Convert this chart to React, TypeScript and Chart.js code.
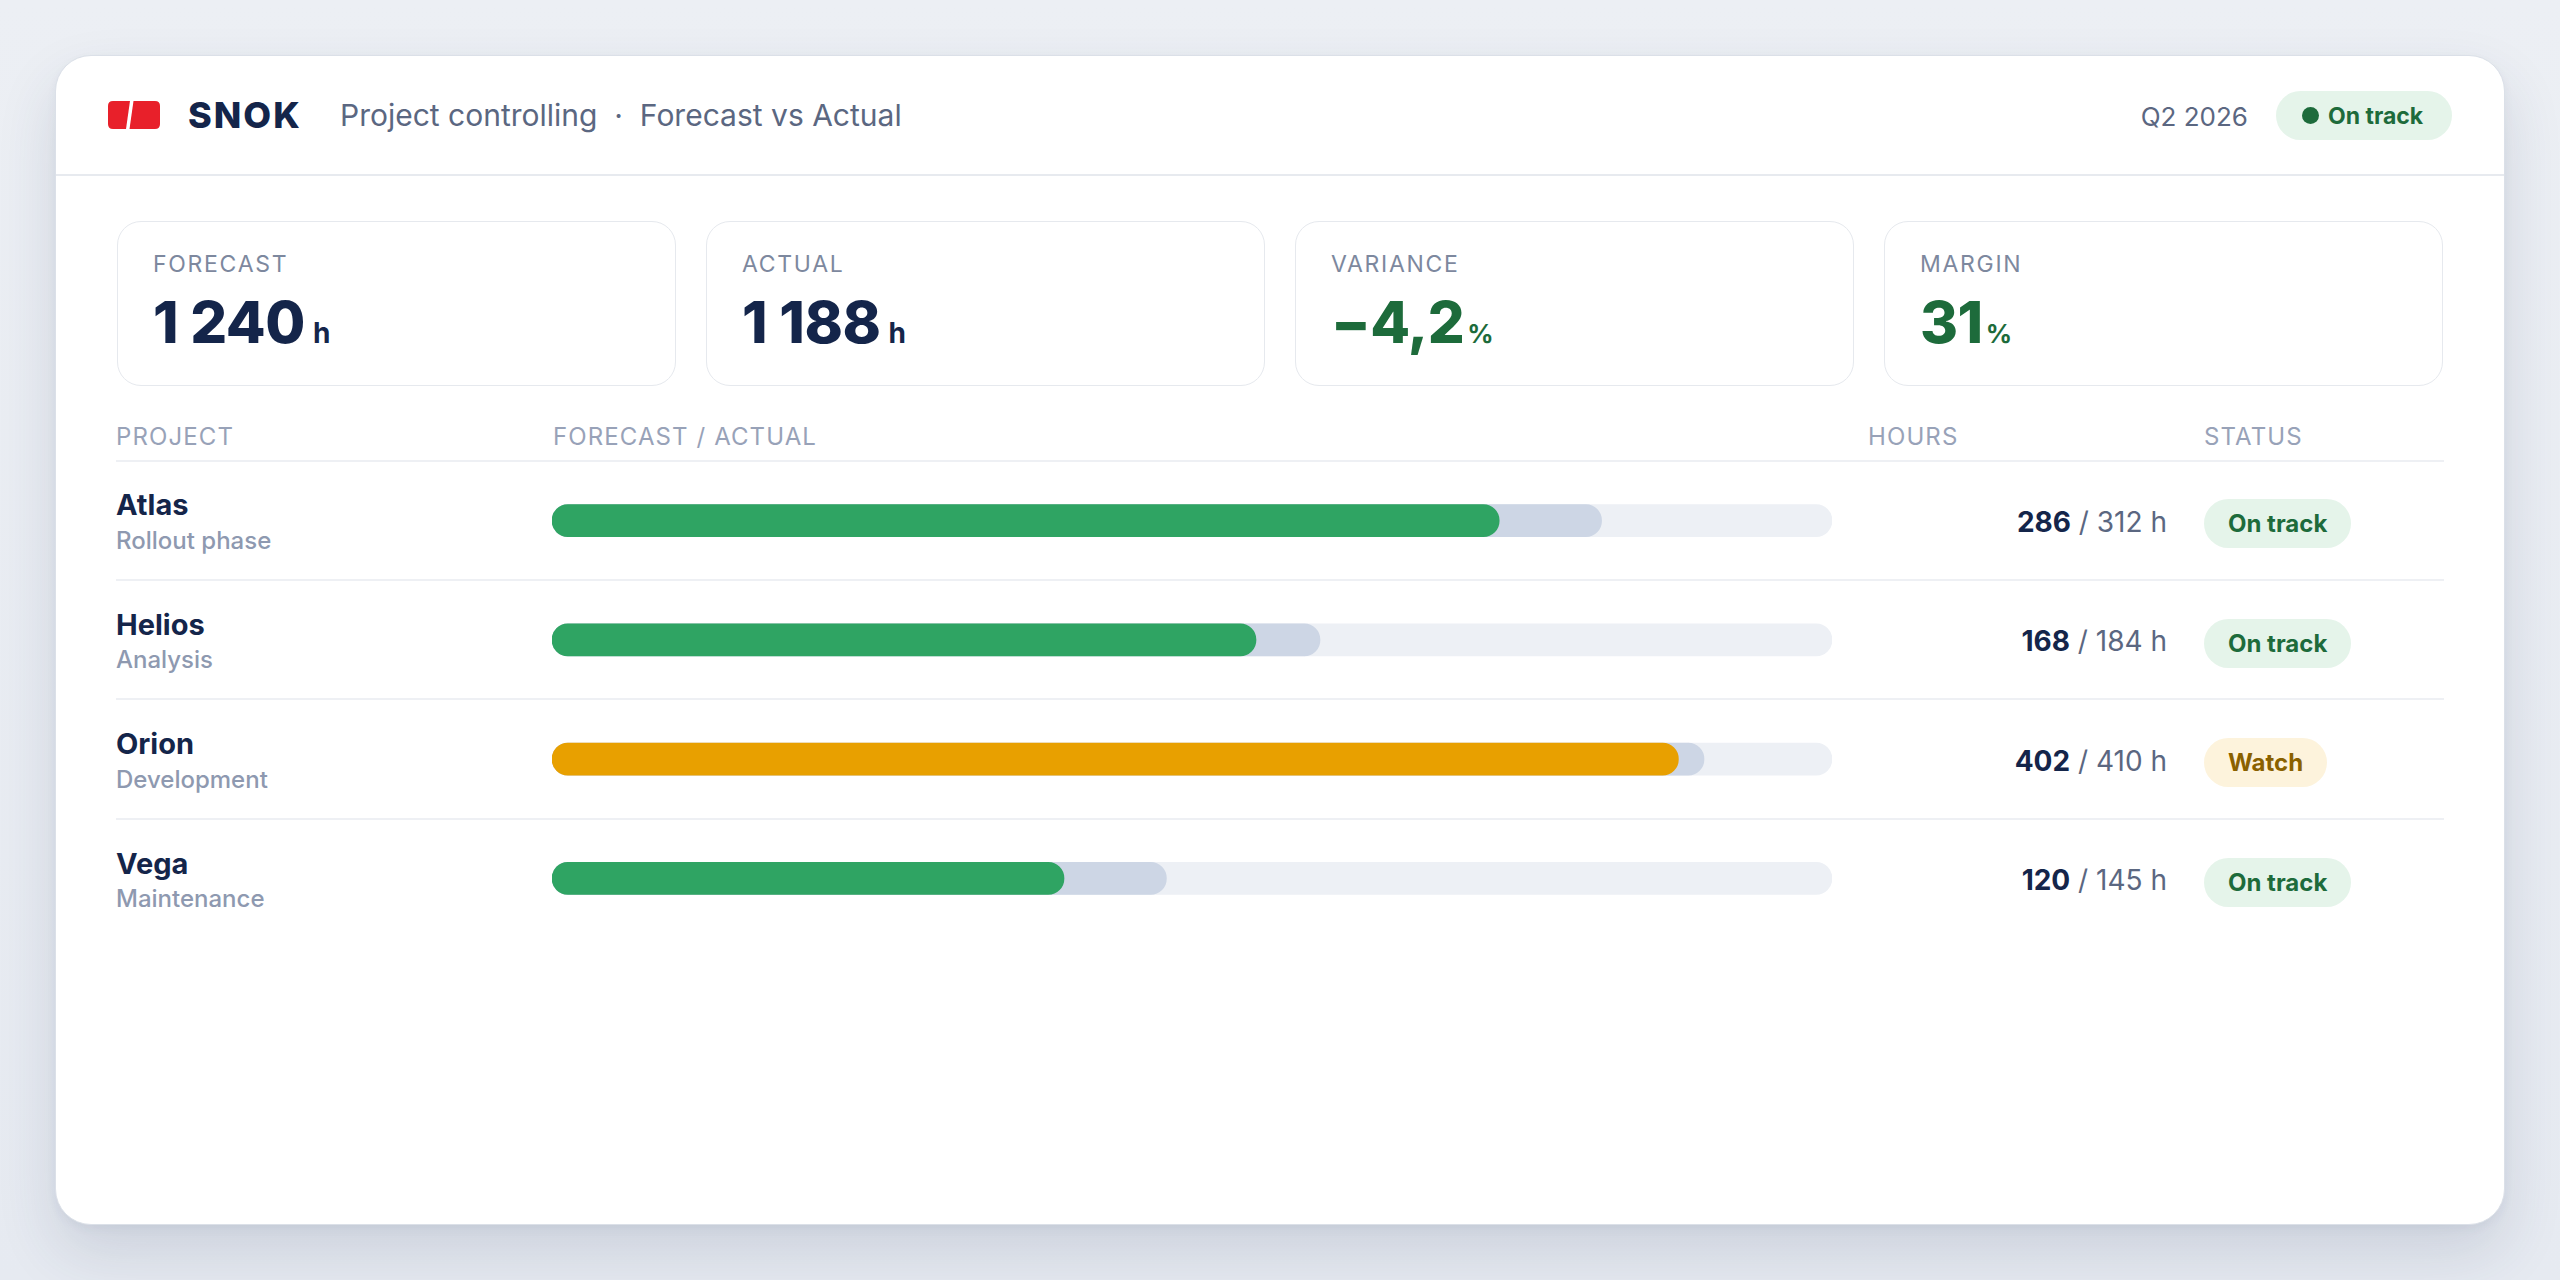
import React, { useEffect, useRef } from "react";
import { Chart, registerables } from "chart.js";

Chart.register(...registerables);

// ---------- data ----------
const projects = ["Atlas", "Helios", "Orion", "Vega"];
const phases = ["Rollout phase", "Analysis", "Development", "Maintenance"];
const actualHours = [286, 168, 402, 120];
const forecastHours = [312, 184, 410, 145];
// bar lengths as share (%) of each project's track
const actualShare = [74, 55, 88, 40];
const forecastShare = [82, 60, 90, 48];
const trackShare = [100, 100, 100, 100];
const statuses = ["On track", "On track", "Watch", "On track"];

const kpiLabels = ["FORECAST", "ACTUAL", "VARIANCE", "MARGIN"];
const kpiValues = ["1 240", "1 188", "\u22124,2", "31"];
const kpiUnits = ["h", "h", "%", "%"];
const columnHeaders = ["PROJECT", "FORECAST / ACTUAL", "HOURS", "STATUS"];

// ---------- styles ----------
const FONT = "Inter, 'Noto Sans', sans-serif";
const NAVY = "#14254a";
const SLATE = "#5b6781";
const GREEN_TXT = "#1d6b3b";
const GREEN_BAR = "#2fa463";
const ORANGE_BAR = "#e8a000";
const FORECAST_BAR = "#cdd6e5";
const TRACK = "#edf0f5";

const ROW_TOP = 460;
const ROW_H = 119.5;

function BarsChart() {
  const ref = useRef<HTMLCanvasElement | null>(null);
  useEffect(() => {
    if (!ref.current) return;
    const chart = new Chart(ref.current, {
      type: "bar",
      data: {
        labels: projects,
        datasets: [
          {
            label: "Actual",
            data: actualShare,
            backgroundColor: statuses.map((s) => (s === "Watch" ? ORANGE_BAR : GREEN_BAR)),
            order: 1,
          },
          {
            label: "Forecast",
            data: forecastShare,
            backgroundColor: FORECAST_BAR,
            order: 2,
          },
          {
            label: "Track",
            data: trackShare,
            backgroundColor: TRACK,
            order: 3,
          },
        ],
      },
      options: {
        indexAxis: "y",
        animation: false,
        responsive: false,
        maintainAspectRatio: false,
        devicePixelRatio: 1,
        layout: { padding: 0 },
        datasets: {
          bar: {
            grouped: false,
            barThickness: 32,
            borderRadius: 16,
            borderSkipped: false,
            borderWidth: 0,
          },
        },
        scales: {
          x: { display: false, min: 0, max: 100 },
          y: { display: false },
        },
        plugins: {
          legend: { display: false },
          tooltip: { enabled: false },
        },
      } as any,
    });
    return () => chart.destroy();
  }, []);
  return (
    <canvas
      ref={ref}
      width={1280}
      height={477}
      style={{ position: "absolute", left: 552, top: 461, width: 1280, height: 477 }}
    />
  );
}

function Pill({ text, left, top, watch }: { text: string; left: number; top: number; watch: boolean }) {
  return (
    <div
      style={{
        position: "absolute",
        left,
        top,
        height: 49,
        padding: "0 24px",
        borderRadius: 25,
        background: watch ? "#fdf3dc" : "#e5f4ea",
        color: watch ? "#8a6100" : GREEN_TXT,
        fontFamily: FONT,
        fontWeight: 700,
        fontSize: 24,
        display: "flex",
        alignItems: "center",
        boxSizing: "border-box",
        whiteSpace: "nowrap",
      }}
    >
      {text}
    </div>
  );
}

export default function App() {
  const cardLefts = [117, 706, 1295, 1884];
  return (
    <div
      style={{
        position: "fixed",
        left: 0,
        top: 0,
        width: 2560,
        height: 1280,
        background: "linear-gradient(180deg, #eceff4 0%, #e6eaf1 100%)",
        overflow: "hidden",
        fontFamily: FONT,
      }}
    >
      {/* main card */}
      <div
        style={{
          position: "absolute",
          left: 55,
          top: 55,
          width: 2450,
          height: 1170,
          boxSizing: "border-box",
          background: "#ffffff",
          border: "1.5px solid #dbe0e8",
          borderRadius: 36,
          boxShadow: "0 28px 60px rgba(40,55,95,0.14), 0 4px 10px rgba(40,55,95,0.05)",
        }}
      />
      {/* header divider */}
      <div style={{ position: "absolute", left: 56, top: 174, width: 2448, height: 1.5, background: "#e7eaef" }} />

      {/* logo */}
      <svg style={{ position: "absolute", left: 108, top: 101 }} width={52} height={28} viewBox="0 0 52 28">
        <path d="M5 0 H22 L18 28 H5 Q0 28 0 23 V5 Q0 0 5 0 Z" fill="#e8202a" />
        <path d="M25.5 0 H47 Q52 0 52 5 V23 Q52 28 47 28 H21.5 Z" fill="#e8202a" />
      </svg>
      <div
        style={{
          position: "absolute",
          left: 188,
          top: 97,
          fontSize: 36,
          lineHeight: "36px",
          fontWeight: 800,
          letterSpacing: 2,
          color: NAVY,
          whiteSpace: "nowrap",
        }}
      >
        SNOK
      </div>
      <div
        style={{
          position: "absolute",
          left: 340,
          top: 100,
          fontSize: 30,
          lineHeight: "30px",
          color: SLATE,
          whiteSpace: "nowrap",
        }}
      >
        Project controlling&nbsp;&nbsp;·&nbsp;&nbsp;Forecast vs Actual
      </div>
      <div
        style={{
          position: "absolute",
          right: 2560 - 2248,
          top: 103.5,
          fontSize: 26,
          lineHeight: "26px",
          color: SLATE,
          whiteSpace: "nowrap",
        }}
      >
        Q2 2026
      </div>
      <div
        style={{
          position: "absolute",
          left: 2276,
          top: 91,
          width: 176,
          height: 49,
          borderRadius: 25,
          background: "#e5f4ea",
          display: "flex",
          alignItems: "center",
          paddingLeft: 26,
          boxSizing: "border-box",
          color: GREEN_TXT,
          fontWeight: 700,
          fontSize: 23,
          whiteSpace: "nowrap",
        }}
      >
        <span style={{ width: 17, height: 17, borderRadius: 9, background: GREEN_TXT, marginRight: 9, display: "inline-block" }} />
        On track
      </div>

      {/* KPI cards */}
      {kpiLabels.map((lab, i) => (
        <div
          key={lab}
          style={{
            position: "absolute",
            left: cardLefts[i],
            top: 221,
            width: 559,
            height: 165,
            boxSizing: "border-box",
            border: "1.5px solid #e6e9ee",
            borderRadius: 24,
            background: "#fff",
          }}
        >
          <div
            style={{
              position: "absolute",
              left: 35,
              top: 30.5,
              fontSize: 23,
              lineHeight: "23px",
              letterSpacing: 1.7,
              color: "#7d889e",
              whiteSpace: "nowrap",
            }}
          >
            {lab}
          </div>
          <div
            style={{
              position: "absolute",
              left: 35,
              top: 70.5,
              fontSize: 58,
              lineHeight: "58px",
              fontWeight: 800,
              color: i < 2 ? NAVY : GREEN_TXT,
              whiteSpace: "pre",
              letterSpacing: -0.5,
            }}
          >
            {kpiValues[i]}
            <span
              style={{
                fontSize: kpiUnits[i] === "h" ? 28 : 26,
                fontWeight: 700,
                marginLeft: kpiUnits[i] === "h" ? 8 : 3,
                letterSpacing: 0,
              }}
            >
              {kpiUnits[i]}
            </span>
          </div>
        </div>
      ))}

      {/* table header */}
      {columnHeaders.map((h, i) => (
        <div
          key={h}
          style={{
            position: "absolute",
            left: [116, 553, 1868, 2204][i],
            top: 425,
            fontSize: 24,
            lineHeight: "24px",
            letterSpacing: 1.1,
            color: "#98a2b8",
            whiteSpace: "nowrap",
          }}
        >
          {h}
        </div>
      ))}
      <div style={{ position: "absolute", left: 116, top: 459.5, width: 2328, height: 2, background: "#eef0f4" }} />

      {/* rows */}
      {projects.map((p, i) => {
        const top = ROW_TOP + ROW_H * i;
        return (
          <React.Fragment key={p}>
            <div
              style={{
                position: "absolute",
                left: 116,
                top: top + 30,
                fontSize: 29,
                lineHeight: "29px",
                fontWeight: 700,
                color: NAVY,
                whiteSpace: "nowrap",
              }}
            >
              {p}
            </div>
            <div
              style={{
                position: "absolute",
                left: 116,
                top: top + 68.5,
                fontSize: 24,
                lineHeight: "24px",
                fontWeight: 500,
                color: "#8e99b0",
                whiteSpace: "nowrap",
              }}
            >
              {phases[i]}
            </div>
            <div
              style={{
                position: "absolute",
                right: 2560 - 2167,
                top: top + 47.5,
                fontSize: 28,
                lineHeight: "28px",
                color: SLATE,
                whiteSpace: "nowrap",
              }}
            >
              <span style={{ fontWeight: 700, color: NAVY }}>{actualHours[i]}</span> / {forecastHours[i]} h
            </div>
            <Pill text={statuses[i]} left={2204} top={top + 39} watch={statuses[i] === "Watch"} />
            {i < projects.length - 1 && (
              <div
                style={{
                  position: "absolute",
                  left: 116,
                  top: top + ROW_H - 1,
                  width: 2328,
                  height: 2,
                  background: "#eef0f4",
                }}
              />
            )}
          </React.Fragment>
        );
      })}

      <BarsChart />
    </div>
  );
}
